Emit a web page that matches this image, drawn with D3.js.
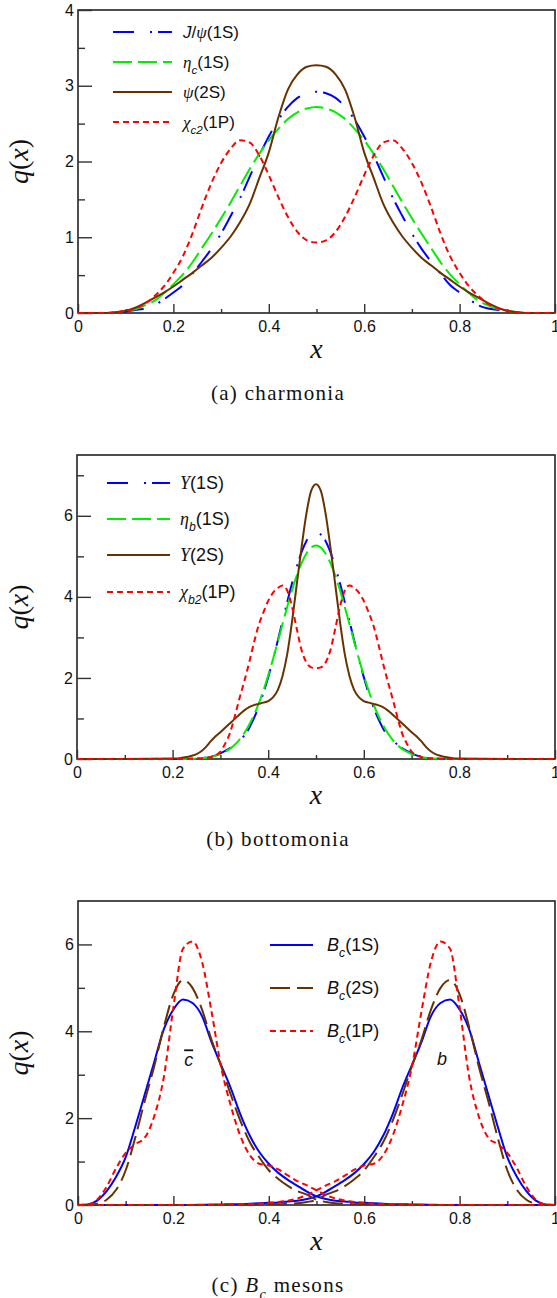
<!DOCTYPE html>
<html><head><meta charset="utf-8">
<script src="https://cdn.jsdelivr.net/npm/d3@7/dist/d3.min.js"></script>
<style>html,body{margin:0;padding:0;background:#fff;}svg{display:block;}</style>
</head><body>
<svg id="chart" width="557" height="1298"></svg>
<script>
// ---------------- DATA ----------------
const xMajor = [0, 0.2, 0.4, 0.6, 0.8, 1];
const xLabels = ["0", "0.2", "0.4", "0.6", "0.8", "1"];
const xMinor = [0.1, 0.3, 0.5, 0.7, 0.9];

// (a) charmonia
const xA = [0,0.02,0.04,0.06,0.08,0.1,0.12,0.14,0.16,0.18,0.2,0.22,0.24,0.26,0.28,0.3,0.32,0.34,0.36,0.38,0.4,0.42,0.44,0.46,0.48,0.5,0.52,0.54,0.56,0.58,0.6,0.62,0.64,0.66,0.68,0.7,0.72,0.74,0.76,0.78,0.8,0.82,0.84,0.86,0.88,0.9,0.92,0.94,0.96,0.98,1];
const jpsi1S = [0,0,0,0,0.005,0.02,0.04,0.06,0.1,0.18,0.27,0.37,0.52,0.68,0.85,1.05,1.28,1.52,1.8,2.08,2.33,2.55,2.72,2.84,2.9,2.92,2.9,2.84,2.72,2.55,2.33,2.08,1.8,1.52,1.28,1.05,0.85,0.68,0.52,0.37,0.27,0.18,0.1,0.06,0.04,0.02,0.005,0,0,0,0];
const etac1S = [0,0,0,0,0.01,0.03,0.05,0.1,0.16,0.26,0.38,0.51,0.67,0.86,1.05,1.25,1.46,1.68,1.9,2.1,2.28,2.43,2.56,2.65,2.7,2.72,2.7,2.65,2.56,2.43,2.28,2.1,1.9,1.68,1.46,1.25,1.05,0.86,0.67,0.51,0.38,0.26,0.16,0.1,0.05,0.03,0.01,0,0,0,0];
const psi2S = [0,0,0,0,0.01,0.03,0.07,0.13,0.2,0.27,0.35,0.44,0.53,0.63,0.73,0.86,1.01,1.2,1.44,1.78,2.12,2.58,2.95,3.15,3.25,3.27,3.25,3.15,2.95,2.58,2.12,1.78,1.44,1.2,1.01,0.86,0.73,0.63,0.53,0.44,0.35,0.27,0.2,0.13,0.07,0.03,0.01,0,0,0,0];
const chic21P = [0,0,0,0,0.01,0.03,0.06,0.12,0.22,0.35,0.53,0.75,1.05,1.4,1.72,1.98,2.17,2.28,2.25,2.08,1.82,1.53,1.27,1.07,0.96,0.93,0.96,1.07,1.27,1.53,1.82,2.08,2.25,2.28,2.17,1.98,1.72,1.4,1.05,0.75,0.53,0.35,0.22,0.12,0.06,0.03,0.01,0,0,0,0];
const yMajorA = [0, 1, 2, 3, 4];
const yMinorA = [0.5, 1.5, 2.5, 3.5];

// (b) bottomonia
const xB = [0,0.1,0.2,0.21,0.22,0.23,0.24,0.25,0.26,0.27,0.28,0.29,0.3,0.31,0.32,0.33,0.34,0.35,0.36,0.37,0.38,0.39,0.4,0.41,0.42,0.43,0.44,0.45,0.46,0.47,0.48,0.49,0.5,0.51,0.52,0.53,0.54,0.55,0.56,0.57,0.58,0.59,0.6,0.61,0.62,0.63,0.64,0.65,0.66,0.67,0.68,0.69,0.7,0.71,0.72,0.73,0.74,0.75,0.76,0.77,0.78,0.79,0.8,0.9,1];
const ups1S = [0,0,0,0,0,0.002,0.005,0.01,0.02,0.04,0.06,0.09,0.14,0.2,0.27,0.36,0.46,0.58,0.76,1.0,1.29,1.63,2.02,2.45,2.92,3.4,3.88,4.34,4.75,5.11,5.38,5.54,5.6,5.54,5.38,5.11,4.75,4.34,3.88,3.4,2.92,2.45,2.02,1.63,1.29,1.0,0.76,0.58,0.46,0.36,0.27,0.2,0.14,0.09,0.06,0.04,0.02,0.01,0.005,0.002,0,0,0,0,0];
const etab1S = [0,0,0,0,0.002,0.004,0.007,0.01,0.02,0.03,0.05,0.08,0.12,0.18,0.25,0.35,0.48,0.64,0.84,1.08,1.36,1.69,2.06,2.46,2.89,3.33,3.76,4.17,4.54,4.84,5.07,5.22,5.27,5.22,5.07,4.84,4.54,4.17,3.76,3.33,2.89,2.46,2.06,1.69,1.36,1.08,0.84,0.64,0.48,0.35,0.25,0.18,0.12,0.08,0.05,0.03,0.02,0.01,0.007,0.004,0.002,0,0,0,0];
const ups2S = [0,0,0.01,0.015,0.03,0.05,0.08,0.12,0.19,0.3,0.44,0.56,0.66,0.77,0.88,0.99,1.1,1.2,1.28,1.33,1.36,1.39,1.43,1.52,1.7,2.05,2.6,3.4,4.33,5.24,6.06,6.62,6.78,6.62,6.06,5.24,4.33,3.4,2.6,2.05,1.7,1.52,1.43,1.39,1.36,1.33,1.28,1.2,1.1,0.99,0.88,0.77,0.66,0.56,0.44,0.3,0.19,0.12,0.08,0.05,0.03,0.015,0.01,0,0];
const chib21P = [0,0,0,0,0,0.005,0.01,0.015,0.02,0.03,0.05,0.09,0.18,0.38,0.64,1.05,1.5,1.92,2.37,2.86,3.3,3.62,3.9,4.1,4.22,4.28,4.15,3.75,3.2,2.68,2.38,2.26,2.24,2.26,2.38,2.68,3.2,3.75,4.15,4.28,4.22,4.1,3.9,3.62,3.3,2.86,2.37,1.92,1.5,1.05,0.64,0.38,0.18,0.09,0.05,0.03,0.02,0.015,0.01,0.005,0,0,0,0,0];
const yMajorB = [0, 2, 4, 6];
const yMinorB = [1, 3, 5, 7];

// (c) Bc mesons
const xC = [0,0.02,0.04,0.06,0.08,0.1,0.12,0.14,0.16,0.18,0.2,0.22,0.24,0.26,0.28,0.3,0.32,0.34,0.36,0.38,0.4,0.42,0.44,0.46,0.48,0.5,0.52,0.54,0.56,0.58,0.6,0.62,0.64,0.66,0.68,0.7,0.72,0.74,0.76,0.78,0.8,0.82,0.84,0.86,0.88,0.9,0.92,0.94,0.96,0.98,1];
const bc1S_cbar = [0,0.01,0.1,0.32,0.65,1.1,1.8,2.55,3.3,4.05,4.5,4.73,4.65,4.35,3.75,3.22,2.7,2.1,1.6,1.22,0.95,0.74,0.58,0.44,0.31,0.2,0.14,0.1,0.08,0.06,0.05,0.04,0.03,0.02,0.02,0.01,0.01,0.005,0,0,0,0,0,0,0,0,0,0,0,0,0];
const bc1S_b = [0,0,0,0,0,0,0,0,0,0,0,0,0,0.005,0.01,0.01,0.02,0.02,0.03,0.04,0.05,0.06,0.08,0.1,0.14,0.2,0.31,0.44,0.58,0.74,0.95,1.22,1.6,2.1,2.7,3.22,3.75,4.35,4.65,4.73,4.5,4.05,3.3,2.55,1.8,1.1,0.65,0.32,0.1,0.01,0];
const bc2S_cbar = [0,0,0.03,0.12,0.35,0.8,1.55,2.4,3.2,4.1,4.85,5.18,5.0,4.5,3.8,3.2,2.55,1.95,1.45,1.1,0.8,0.6,0.44,0.32,0.24,0.12,0.07,0.04,0.03,0.02,0.02,0.01,0.01,0,0,0,0,0,0,0,0,0,0,0,0,0,0,0,0,0,0];
const bc2S_b = [0,0,0,0,0,0,0,0,0,0,0,0,0,0,0,0,0,0,0.01,0.01,0.02,0.02,0.03,0.04,0.07,0.12,0.24,0.32,0.44,0.6,0.8,1.1,1.45,1.95,2.55,3.2,3.8,4.5,5.0,5.18,4.85,4.1,3.2,2.4,1.55,0.8,0.35,0.12,0.03,0,0];
const bc1P_cbar = [0,0.01,0.12,0.42,0.85,1.2,1.4,1.55,2.05,2.95,4.55,5.9,6.07,5.6,4.45,3.18,2.3,1.6,1.15,0.95,0.91,0.82,0.68,0.55,0.45,0.34,0.23,0.15,0.1,0.07,0.05,0.03,0.02,0.01,0.01,0,0,0,0,0,0,0,0,0,0,0,0,0,0,0,0];
const bc1P_b = [0,0,0,0,0,0,0,0,0,0,0,0,0,0,0,0,0.01,0.01,0.02,0.03,0.05,0.07,0.1,0.15,0.23,0.34,0.45,0.55,0.68,0.82,0.91,0.95,1.15,1.6,2.3,3.18,4.45,5.6,6.07,5.9,4.55,2.95,2.05,1.55,1.4,1.2,0.85,0.42,0.12,0.01,0];
const yMajorC = [0, 2, 4, 6];
const yMinorC = [1, 3, 5];

// legend label parts
const legendA = [
  [{t:"J",it:1},{t:"/"},{t:"ψ",it:1,serif:1},{t:"(1S)"}],
  [{t:"η",it:1,serif:1},{t:"c",it:1,sub:1},{t:"(1S)"}],
  [{t:"ψ",it:1,serif:1},{t:"(2S)"}],
  [{t:"χ",it:1,serif:1},{t:"c2",it:1,sub:1},{t:"(1P)"}]
];
const legendB = [
  [{t:"Υ",it:1,serif:1},{t:"(1S)"}],
  [{t:"η",it:1,serif:1},{t:"b",it:1,sub:1},{t:"(1S)"}],
  [{t:"Υ",it:1,serif:1},{t:"(2S)"}],
  [{t:"χ",it:1,serif:1},{t:"b2",it:1,sub:1},{t:"(1P)"}]
];
const legendC = [
  [{t:"B",it:1},{t:"c",it:1,sub:1},{t:"(1S)"}],
  [{t:"B",it:1},{t:"c",it:1,sub:1},{t:"(2S)"}],
  [{t:"B",it:1},{t:"c",it:1,sub:1},{t:"(1P)"}]
];
const captionA = [{t:"(a) charmonia"}];
const captionB = [{t:"(b) bottomonia"}];
const captionC = [{t:"(c) "},{t:"B",it:1},{t:"c",it:1,sub:1},{t:" mesons"}];

// ---------------- DRAWING ----------------
const svg = d3.select("#chart");
const SANS = "'Liberation Sans', Arial, sans-serif";
const SERIF = "'Liberation Serif', 'Times New Roman', serif";
const BLUE = "#0000ff", GREEN = "#00ee00", BROWN = "#663300", RED = "#ff0000";
const DASHDOT = "21,16,2,6", LONGDASH = "19,6", SHORTDASH = "6,4", BROWNDASH = "20,7";

function rich(sel, parts, size, baseFamily) {
  let inSub = false;
  parts.forEach(p => {
    const t = sel.append("tspan").text(p.t);
    t.attr("font-family", p.serif ? SERIF : baseFamily);
    if (p.it) t.attr("font-style", "italic");
    if (p.sub) {
      t.attr("font-size", size * 0.68);
      if (!inSub) t.attr("dy", size * 0.32);
      inSub = true;
    } else {
      t.attr("font-size", size);
      if (inSub) t.attr("dy", -size * 0.32);
      inSub = false;
    }
  });
}

function drawPanel(cfg) {
  const x = d3.scaleLinear().domain([0, 1]).range([cfg.left, cfg.right]);
  const y = d3.scaleLinear().domain([0, cfg.ymax]).range([cfg.bottom, cfg.top]);
  const g = svg.append("g");

  g.append("rect").attr("x", cfg.left).attr("y", cfg.top)
    .attr("width", cfg.right - cfg.left).attr("height", cfg.bottom - cfg.top)
    .attr("fill", "none").attr("stroke", "#222").attr("stroke-width", 1.6);

  const xa = g.append("g").attr("transform", `translate(0,${cfg.bottom})`)
    .call(d3.axisBottom(x).tickValues(xMajor).tickFormat((d, i) => xLabels[i])
      .tickSizeInner(-9).tickSizeOuter(0).tickPadding(8));
  xa.select(".domain").remove();
  xa.selectAll("text").attr("font-family", SANS).attr("font-size", 16).attr("fill", "#111");
  xa.selectAll("line").attr("stroke", "#333").attr("stroke-width", 1.4);

  const xm = g.append("g").attr("transform", `translate(0,${cfg.bottom})`)
    .call(d3.axisBottom(x).tickValues(xMinor).tickFormat("").tickSizeInner(-4).tickSizeOuter(0));
  xm.select(".domain").remove();
  xm.selectAll("line").attr("stroke", "#333").attr("stroke-width", 1.4);

  const ya = g.append("g").attr("transform", `translate(${cfg.left},0)`)
    .call(d3.axisLeft(y).tickValues(cfg.yMajor).tickFormat(d3.format("d"))
      .tickSizeInner(-14).tickSizeOuter(0).tickPadding(4));
  ya.select(".domain").remove();
  ya.selectAll("text").attr("font-family", SANS).attr("font-size", 16).attr("fill", "#111");
  ya.selectAll("line").attr("stroke", "#333").attr("stroke-width", 1.4);

  const ym = g.append("g").attr("transform", `translate(${cfg.left},0)`)
    .call(d3.axisLeft(y).tickValues(cfg.yMinor).tickFormat("").tickSizeInner(-7).tickSizeOuter(0));
  ym.select(".domain").remove();
  ym.selectAll("line").attr("stroke", "#333").attr("stroke-width", 1.4);

  const line = d3.line().x(d => x(d[0])).y(d => y(d[1])).curve(d3.curveMonotoneX);
  cfg.series.forEach(s => {
    g.append("path")
      .attr("d", line(cfg.xs.map((xv, i) => [xv, s.values[i]])))
      .attr("fill", "none").attr("stroke", s.color).attr("stroke-width", 2)
      .attr("stroke-dasharray", s.dash || null);
  });

  // legend
  cfg.legend.labels.forEach((parts, i) => {
    const st = cfg.legend.styles[i];
    const ry = cfg.legend.rows[i];
    g.append("line").attr("x1", cfg.legend.x1).attr("x2", cfg.legend.x2)
      .attr("y1", ry).attr("y2", ry)
      .attr("stroke", st.color).attr("stroke-width", 2).attr("stroke-dasharray", st.dash || null);
    const t = g.append("text").attr("x", cfg.legend.tx).attr("y", ry + cfg.legend.size * 0.36)
      .attr("fill", "#111");
    rich(t, parts, cfg.legend.size, SANS);
  });

  // axis titles
  const yl = g.append("text")
    .attr("transform", `translate(28,${(cfg.top + cfg.bottom) / 2}) rotate(-90)`)
    .attr("text-anchor", "middle").attr("font-family", SERIF).attr("font-size", 28).attr("fill", "#111");
  yl.append("tspan").attr("font-style", "italic").text("q");
  yl.append("tspan").text("(");
  yl.append("tspan").attr("font-style", "italic").text("x");
  yl.append("tspan").text(")");

  g.append("text").attr("x", (cfg.left + cfg.right) / 2).attr("y", cfg.bottom + 45)
    .attr("text-anchor", "middle").attr("font-family", SERIF).attr("font-style", "italic")
    .attr("font-size", 28).attr("fill", "#111").text("x");

  const cap = g.append("text").attr("x", 278).attr("y", cfg.bottom + 87)
    .attr("text-anchor", "middle").attr("fill", "#111").attr("letter-spacing", 1.3);
  rich(cap, cfg.caption, 21, SERIF);

  return {x, y, g};
}

drawPanel({
  left: 78, right: 555, top: 10, bottom: 313, ymax: 4,
  yMajor: yMajorA, yMinor: yMinorA, xs: xA,
  series: [
    {values: jpsi1S, color: BLUE, dash: DASHDOT},
    {values: etac1S, color: GREEN, dash: LONGDASH},
    {values: psi2S, color: BROWN},
    {values: chic21P, color: RED, dash: SHORTDASH}
  ],
  legend: {labels: legendA, x1: 113, x2: 172, tx: 183, rows: [32, 62, 92, 122], size: 17,
    styles: [{color: BLUE, dash: DASHDOT}, {color: GREEN, dash: LONGDASH}, {color: BROWN}, {color: RED, dash: SHORTDASH}]},
  caption: captionA
});

drawPanel({
  left: 77, right: 555, top: 455, bottom: 759, ymax: 7.5,
  yMajor: yMajorB, yMinor: yMinorB, xs: xB,
  series: [
    {values: ups1S, color: BLUE, dash: DASHDOT},
    {values: etab1S, color: GREEN, dash: LONGDASH},
    {values: ups2S, color: BROWN},
    {values: chib21P, color: RED, dash: SHORTDASH}
  ],
  legend: {labels: legendB, x1: 107, x2: 170, tx: 180, rows: [483, 519, 555, 592], size: 18,
    styles: [{color: BLUE, dash: DASHDOT}, {color: GREEN, dash: LONGDASH}, {color: BROWN}, {color: RED, dash: SHORTDASH}]},
  caption: captionB
});

const pc = drawPanel({
  left: 78, right: 555, top: 901, bottom: 1205, ymax: 7,
  yMajor: yMajorC, yMinor: yMinorC, xs: xC,
  series: [
    {values: bc1S_cbar, color: BLUE},
    {values: bc1S_b, color: BLUE},
    {values: bc2S_cbar, color: BROWN, dash: BROWNDASH},
    {values: bc2S_b, color: BROWN, dash: BROWNDASH},
    {values: bc1P_cbar, color: RED, dash: SHORTDASH},
    {values: bc1P_b, color: RED, dash: SHORTDASH}
  ],
  legend: {labels: legendC, x1: 270, x2: 313, tx: 327, rows: [945, 988, 1031], size: 18,
    styles: [{color: BLUE}, {color: BROWN, dash: BROWNDASH}, {color: RED, dash: SHORTDASH}]},
  caption: captionC
});

// quark annotations
pc.g.append("text").attr("x", pc.x(0.232)).attr("y", pc.y(3.33) + 6)
  .attr("text-anchor", "middle").attr("font-family", SANS).attr("font-style", "italic")
  .attr("font-size", 18).attr("fill", "#111").style("text-decoration", "overline").text("c");
pc.g.append("text").attr("x", pc.x(0.763)).attr("y", pc.y(3.37) + 6)
  .attr("text-anchor", "middle").attr("font-family", SANS).attr("font-style", "italic")
  .attr("font-size", 18).attr("fill", "#111").text("b");
</script>
</body></html>
